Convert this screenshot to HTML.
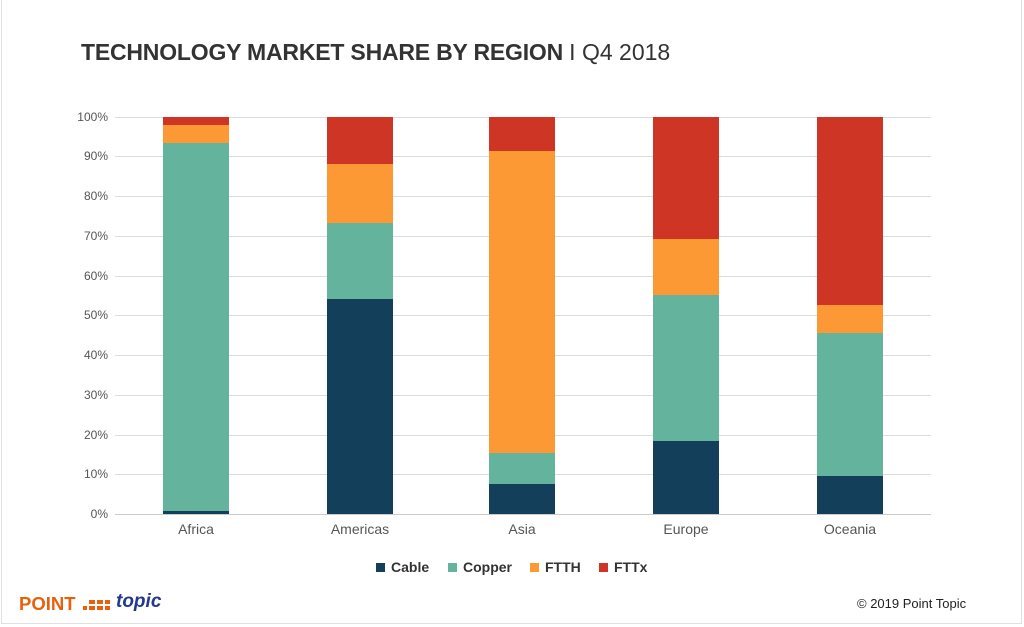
<!DOCTYPE html>
<html><head><meta charset="utf-8"><style>
body{margin:0;width:1024px;height:627px;background:#fff;font-family:"Liberation Sans",Arial,sans-serif;position:relative;overflow:hidden}
.frame{position:absolute;left:1px;top:0;width:1021px;height:624px;border:1px solid #e0e0e0;border-top:none;box-sizing:border-box}
.t{position:absolute;white-space:nowrap}
.g{position:absolute;left:115px;width:816px;height:1px;background:#dcdcdc}
.yl{position:absolute;left:60px;width:48px;text-align:right;font-size:12px;color:#555}
.b{position:absolute;width:66px}
.xl{position:absolute;width:120px;text-align:center;font-size:14px;color:#555;top:521px}
.lg{position:absolute;top:559px;font-size:14px;font-weight:bold;color:#333}
.lg i{display:inline-block;width:9px;height:9px;margin-right:6px;vertical-align:0px}
</style></head><body>
<div class="frame"></div>
<div class="t" style="left:81px;top:39px;font-size:23px;font-weight:bold;color:#333;letter-spacing:-0.2px">TECHNOLOGY MARKET SHARE BY REGION <span style="font-weight:normal;font-size:23px;letter-spacing:0">I Q4 2018</span></div>

<div class="g" style="top:117px"></div><div class="g" style="top:156px"></div><div class="g" style="top:196px"></div><div class="g" style="top:236px"></div><div class="g" style="top:276px"></div><div class="g" style="top:315px"></div><div class="g" style="top:355px"></div><div class="g" style="top:395px"></div><div class="g" style="top:435px"></div><div class="g" style="top:474px"></div><div class="g" style="top:514px;background:#ccc"></div>
<div class="yl" style="top:110px">100%</div><div class="yl" style="top:149px">90%</div><div class="yl" style="top:189px">80%</div><div class="yl" style="top:229px">70%</div><div class="yl" style="top:269px">60%</div><div class="yl" style="top:308px">50%</div><div class="yl" style="top:348px">40%</div><div class="yl" style="top:388px">30%</div><div class="yl" style="top:428px">20%</div><div class="yl" style="top:467px">10%</div><div class="yl" style="top:507px">0%</div>

<div class="b" style="left:163px;top:117px;height:8px;background:#cf3524"></div>
<div class="b" style="left:163px;top:125px;height:18px;background:#fd9935"></div>
<div class="b" style="left:163px;top:143px;height:368px;background:#64b39d"></div>
<div class="b" style="left:163px;top:511px;height:3px;background:#143f5a"></div>
<div class="b" style="left:327px;top:117px;height:47px;background:#cf3524"></div>
<div class="b" style="left:327px;top:164px;height:59px;background:#fd9935"></div>
<div class="b" style="left:327px;top:223px;height:76px;background:#64b39d"></div>
<div class="b" style="left:327px;top:299px;height:215px;background:#143f5a"></div>
<div class="b" style="left:489px;top:117px;height:34px;background:#cf3524"></div>
<div class="b" style="left:489px;top:151px;height:302px;background:#fd9935"></div>
<div class="b" style="left:489px;top:453px;height:31px;background:#64b39d"></div>
<div class="b" style="left:489px;top:484px;height:30px;background:#143f5a"></div>
<div class="b" style="left:653px;top:117px;height:122px;background:#cf3524"></div>
<div class="b" style="left:653px;top:239px;height:56px;background:#fd9935"></div>
<div class="b" style="left:653px;top:295px;height:146px;background:#64b39d"></div>
<div class="b" style="left:653px;top:441px;height:73px;background:#143f5a"></div>
<div class="b" style="left:817px;top:117px;height:188px;background:#cf3524"></div>
<div class="b" style="left:817px;top:305px;height:28px;background:#fd9935"></div>
<div class="b" style="left:817px;top:333px;height:143px;background:#64b39d"></div>
<div class="b" style="left:817px;top:476px;height:38px;background:#143f5a"></div>

<div class="xl" style="left:136px">Africa</div>
<div class="xl" style="left:300px">Americas</div>
<div class="xl" style="left:462px">Asia</div>
<div class="xl" style="left:626px">Europe</div>
<div class="xl" style="left:790px">Oceania</div>

<div class="lg" style="left:376px"><i style="background:#143f5a"></i>Cable</div>
<div class="lg" style="left:448px"><i style="background:#64b39d"></i>Copper</div>
<div class="lg" style="left:530px"><i style="background:#fd9935"></i>FTTH</div>
<div class="lg" style="left:599px"><i style="background:#cf3524"></i>FTTx</div>

<div class="t" style="left:19px;top:593px;font-size:18.5px;font-weight:bold;color:#e8600c">POINT</div>
<div class="t" style="left:83px;top:597px;width:30px;height:14px">
<div style="position:absolute;left:0;top:9px;width:4px;height:4px;background:#e8600c"></div>
<div style="position:absolute;left:6px;top:3px;width:6px;height:4px;background:#e8600c"></div><div style="position:absolute;left:6px;top:9px;width:6px;height:4px;background:#e8600c"></div>
<div style="position:absolute;left:14px;top:3px;width:6px;height:4px;background:#e8600c"></div><div style="position:absolute;left:14px;top:9px;width:6px;height:4px;background:#e8600c"></div>
<div style="position:absolute;left:22px;top:3px;width:5px;height:4px;background:#e8600c"></div><div style="position:absolute;left:22px;top:9px;width:5px;height:4px;background:#e8600c"></div>
</div>
<div class="t" style="left:116px;top:591px;font-size:19px;font-weight:bold;font-style:italic;color:#233a8c">topic</div>
<div class="t" style="left:857px;top:596px;font-size:13px;color:#222">© 2019 Point Topic</div>
</body></html>
